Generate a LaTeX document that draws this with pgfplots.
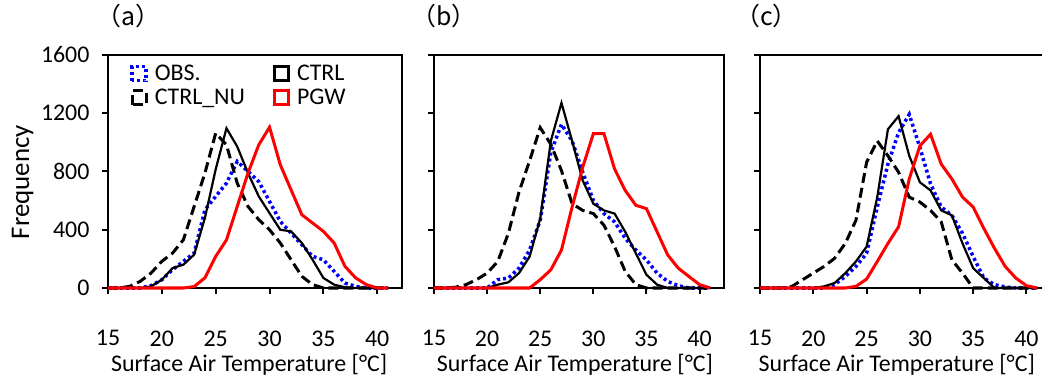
\documentclass[border=0pt]{standalone}
\usepackage{pgfplots}
\pgfplotsset{compat=1.18}
\usepackage{pgfplotstable}
\usepackage{fontspec}
\setmainfont{Carlito}
\newfontfamily\cjk{Noto Sans CJK JP}
\newcommand\fs{\fontsize{24}{28}\selectfont}

\pgfplotstableread{
T obs ctrl nu pgw
15 0 0 0 0
16 0 0 0 0
17 0 0 11 0
18 0 0 46 0
19 16 11 103 0
20 57 57 183 0
21 126 137 240 0
22 183 160 331 0
23 240 229 560 10
24 537 482 789 70
25 629 815 1063 217
26 720 1097 983 330
27 869 971 720 560
28 800 789 560 789
29 731 629 469 983
30 594 514 400 1104
31 457 400 309 846
32 377 389 194 674
33 297 309 80 503
34 217 194 23 446
35 194 69 0 389
36 114 23 0 309
37 34 5 0 149
38 11 0 0 69
39 0 0 0 23
40 0 0 0 0
41 0 0 0 0
}\tabA

\pgfplotstableread{
T obs ctrl nu pgw
15 0 0 0 0
16 0 0 0 0
17 0 0 5 0
18 0 0 23 0
19 0 0 57 0
20 0 0 102 0
21 57 23 182 0
22 68 39 375 0
23 136 102 658 0
24 261 216 874 0
25 465 477 1101 57
26 931 1010 987 125
27 1124 1271 806 261
28 1010 1010 579 556
29 795 738 533 829
30 602 579 511 1060
31 511 533 431 1060
32 454 511 284 817
33 341 386 114 670
34 261 238 23 568
35 193 91 0 545
36 102 23 0 386
37 45 0 0 227
38 16 0 0 136
39 0 0 0 79
40 0 0 0 23
41 0 0 0 0
}\tabB

\pgfplotstableread{
T obs ctrl nu pgw
15 0 0 0 0
16 0 0 0 0
17 0 0 0 0
18 0 0 11 0
19 0 0 57 0
20 0 0 102 0
21 0 11 148 0
22 23 34 204 0
23 79 102 306 0
24 148 182 465 11
25 238 284 863 61
26 556 624 1010 182
27 851 1090 908 306
28 1067 1180 795 420
29 1192 908 624 749
30 965 726 590 976
31 715 670 533 1056
32 556 533 454 851
33 499 499 193 749
34 375 306 102 624
35 216 136 0 556
36 68 68 0 409
37 23 0 0 272
38 7 0 0 148
39 0 0 0 68
40 0 0 0 16
41 0 0 0 0
}\tabC

\definecolor{obsblue}{RGB}{0,0,255}
\definecolor{pgwred}{RGB}{255,0,0}

\pgfplotsset{
  panel/.style={
    scale only axis,
    height=233bp,
    xmin=15, xmax=42.3,
    ymin=0, ymax=1600,
    xtick={15,20,25,30,35,40},
    ytick={0,400,800,1200,1600},
    tick align=outside,
    xtick pos=bottom, ytick pos=left,
    major tick length=6bp,
    tick style={line width=2bp, black},
    axis line style={line width=2.2bp},
    /pgf/number format/assume math mode=true,
    /pgf/number format/1000 sep={},
    ticklabel style={font=\fs},
    xticklabel style={yshift=-33bp},
    yticklabel style={xshift=-9bp},
    label style={font=\fs},
    title style={font=\cjk\fontsize{25}{28}\selectfont, anchor=center},
    clip=false,
    legend image code/.code={\draw[##1] (0bp,-7bp) rectangle (14bp,7bp); \path (19bp,0bp);},
  },
  obs/.style={color=obsblue, line width=3.5bp, dash pattern=on 3bp off 3bp},
  ctrl/.style={color=black, line width=2.2bp},
  nu/.style={color=black, line width=3bp, dash pattern=on 10bp off 5bp},
  pgw/.style={color=pgwred, line width=3bp},
}

\begin{document}
\begin{tikzpicture}
\useasboundingbox (0,0) rectangle (1042bp,376bp);
\clip (0,0) rectangle (1042bp,376bp);

\begin{axis}[panel, at={(108bp,88bp)}, anchor=south west, width=294bp,
  title={（a）}, title style={at={(axis description cs:0.07,1.14)}},
  ylabel={Frequency}, ylabel style={at={(axis description cs:-0.29,0.455)}, anchor=center, font=\fontsize{27}{30}\selectfont},
  xlabel={Surface Air Temperature [°C]}, xlabel style={at={(axis description cs:0.48,-0.33)}, anchor=center},
  legend columns=2, legend cell align=left,
  legend style={draw=none, fill=none, font=\fs, at={(axis description cs:0.065,0.975)}, anchor=north west,
    /tikz/every even column/.append style={column sep=26bp}, row sep=3bp},
]
\addplot[obs] table[x=T,y=obs] {\tabA};
\addlegendentry{OBS.}
\addplot[ctrl] table[x=T,y=ctrl] {\tabA};
\addlegendentry{CTRL}
\addplot[nu] table[x=T,y=nu] {\tabA};
\addlegendentry{CTRL\_NU}
\addplot[pgw] table[x=T,y=pgw] {\tabA};
\addlegendentry{PGW}
\end{axis}

\begin{axis}[panel, at={(434bp,88bp)}, anchor=south west, width=290bp,
  title={（b）}, title style={at={(axis description cs:0.035,1.14)}},
  yticklabels={}, 
  xlabel={Surface Air Temperature [°C]}, xlabel style={at={(axis description cs:0.486,-0.33)}, anchor=center},
]
\addplot[obs] table[x=T,y=obs] {\tabB};
\addplot[ctrl] table[x=T,y=ctrl] {\tabB};
\addplot[nu] table[x=T,y=nu] {\tabB};
\addplot[pgw] table[x=T,y=pgw] {\tabB};
\end{axis}

\begin{axis}[panel, at={(760bp,88bp)}, anchor=south west, width=291bp,
  title={（c）}, title style={at={(axis description cs:0.022,1.14)}},
  yticklabels={},
  xlabel={Surface Air Temperature [°C]}, xlabel style={at={(axis description cs:0.47,-0.33)}, anchor=center},
]
\addplot[obs] table[x=T,y=obs] {\tabC};
\addplot[ctrl] table[x=T,y=ctrl] {\tabC};
\addplot[nu] table[x=T,y=nu] {\tabC};
\addplot[pgw] table[x=T,y=pgw] {\tabC};
\end{axis}
\end{tikzpicture}
\end{document}
